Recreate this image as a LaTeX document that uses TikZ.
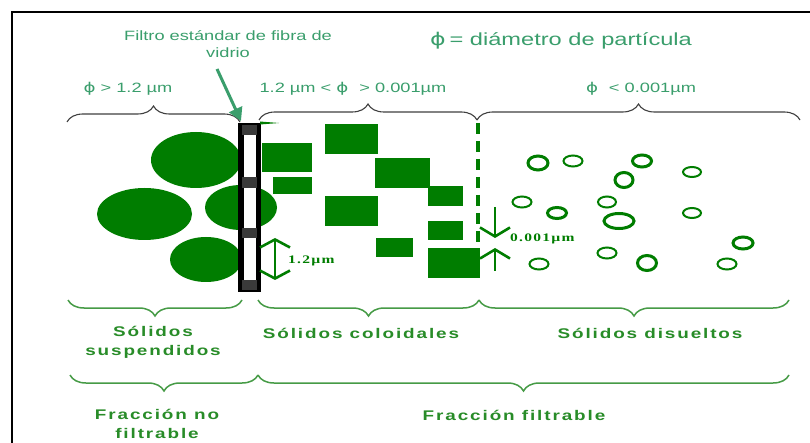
\documentclass[tikz,border=0pt]{standalone}
\usepackage{fontspec}
\usepackage{graphicx}
\setmainfont{Liberation Sans}
\newfontfamily\dvfont{DejaVu Sans}
\newfontfamily\lblfont[LetterSpace=10]{Liberation Sans}
\newfontfamily\serfont[LetterSpace=8]{Liberation Serif}
\usetikzlibrary{decorations.pathreplacing,arrows.meta}
\definecolor{shp}{RGB}{0,125,0}
\definecolor{tealg}{RGB}{58,158,108}
\definecolor{lblg}{RGB}{40,140,40}
\definecolor{brg}{RGB}{70,155,70}
\definecolor{filtgray}{RGB}{58,58,58}
\newcommand\sx[1]{\scalebox{1.35}[1]{#1}}
\newcommand\ph{{\dvfont ϕ}}
\begin{document}
\begin{tikzpicture}[x=1pt,y=-1pt,
  toptxt/.style={text=tealg, font=\fontsize{13.5}{17}\selectfont, inner sep=0, align=center},
  lbl/.style={text=lblg, font=\fontsize{14}{19}\lblfont\bfseries, inner sep=0, align=center},
  dimtxt/.style={text=shp, font=\fontsize{11.5}{13}\serfont\bfseries, inner sep=0, anchor=west},
  topbrace/.style={draw=black!75, line width=1.1, decorate, decoration={brace, amplitude=16, aspect=0.5}},
  botbrace/.style={draw=brg, line width=1.5, decorate, decoration={brace, amplitude=16, aspect=0.5}},
  blob/.style={fill=shp},
  ring/.style={draw=shp, line width=2},
  thickring/.style={draw=shp, line width=3},
  dimarrow/.style={draw=shp, line width=2.6, {Straight Barb[length=8pt,width=30pt]}-{Straight Barb[length=8pt,width=30pt]}},
  onearrow/.style={draw=shp, line width=2.6, -{Straight Barb[length=9pt,width=30pt]}}
]
\useasboundingbox (0,0) rectangle (810,443);
\fill[white] (0,0) rectangle (810,443);
% frame
\draw[line width=2.5, black] (12,445) -- (12,12) -- (812,12);

% top texts
\node[toptxt] (filtro) at (228,44.5) {\sx{Filtro estándar de fibra de}\\\sx{vidrio}};
\node[toptxt, font=\fontsize{17.5}{20}\selectfont] (titulo) at (561,41) {\sx{\ph\,= diámetro de partícula}};
\node[toptxt] (rango1) at (128,89) {\sx{\ph\ > 1.2 µm}};
\node[toptxt] (rango2) at (353,89) {\sx{1.2 µm < \ph\hspace{0.6em}> 0.001µm}};
\node[toptxt] (rango3) at (641,89) {\sx{\ph\hspace{0.6em}< 0.001µm}};

% top braces
\draw[topbrace] (67,122) -- (240,122);
\draw[topbrace] (259,120) -- (477,120);
\draw[topbrace] (477,120) -- (800,120);

% big particles (suspended)
\fill[blob] (196,160) ellipse [x radius=45, y radius=28];
\fill[blob] (144.5,214) ellipse [x radius=47.5, y radius=26];
\fill[blob] (241,207.5) ellipse [x radius=36, y radius=22.5];
\fill[blob] (206,259.5) ellipse [x radius=36, y radius=22.5];

% filter
\node[fill=black, minimum width=23, minimum height=169, inner sep=0] (filter) at (249.5,207.5) {};
\fill[filtgray] (242,125) rectangle (257,135);
\fill[white] (244.3,135) rectangle (255.7,177);
\fill[filtgray] (242,177) rectangle (257,188);
\fill[white] (244.3,188) rectangle (255.7,228);
\fill[filtgray] (242,228) rectangle (257,238);
\fill[white] (244.3,238) rectangle (255.7,280);
\fill[filtgray] (242,280) rectangle (257,290);
\fill[shp] (260,121.5) .. controls (270,121.5) .. (279,123) .. controls (270,124.5) .. (260,124.5) -- cycle;

% arrow to filter
\coordinate (arrtip) at (241,121);
\draw[tealg, line width=3, -{Triangle[length=13pt,width=14pt]}] (217,69) -- (arrtip);

% colloidal particles
\fill[blob] (262,143) rectangle (312,172);
\fill[blob] (273,177) rectangle (312,194);
\fill[blob] (325,124) rectangle (378,154);
\fill[blob] (375,158) rectangle (430,188);
\fill[blob] (428,186) rectangle (463,206);
\fill[blob] (325,196) rectangle (378,226);
\fill[blob] (428,221) rectangle (463,240);
\fill[blob] (376,238) rectangle (413,257);
\fill[blob] (428,248) rectangle (480,278);

% dashed boundary
\draw[shp, line width=4, dash pattern=on 11pt off 7pt] (478,123) -- (478,283);

% 1.2 um dimension
\coordinate (d1a) at (275,238);
\coordinate (d1b) at (275,280);
\draw[dimarrow] (d1b) -- (d1a);
\node[dimtxt] (d1lbl) at (288,261) {\sx{1.2µm}};

% 0.001 um dimension
\coordinate (d2a) at (495,207);
\coordinate (d2b) at (495,238);
\coordinate (d2c) at (495,271);
\coordinate (d2d) at (495,248);
\draw[onearrow] (d2a) -- (d2b);
\draw[onearrow] (d2c) -- (d2d);
\node[dimtxt] (d2lbl) at (510,239) {\sx{0.001µm}};

% dissolved particles
\draw[thickring] (538,163) ellipse [x radius=10, y radius=7];
\draw[ring] (573,161) ellipse [x radius=9.5, y radius=5.5];
\draw[thickring] (642,161) ellipse [x radius=9.5, y radius=6];
\draw[thickring] (624,180) ellipse [x radius=9, y radius=7.5];
\draw[ring] (692,172) ellipse [x radius=9, y radius=5];
\draw[ring] (522,202) ellipse [x radius=9.5, y radius=5.5];
\draw[thickring] (557,213) ellipse [x radius=9.5, y radius=5.5];
\draw[ring] (607,202) ellipse [x radius=9, y radius=5.5];
\draw[thickring] (619,221) ellipse [x radius=15, y radius=7.5];
\draw[ring] (692,213) ellipse [x radius=9, y radius=5];
\draw[thickring] (743,243) ellipse [x radius=10, y radius=6];
\draw[ring] (607,253) ellipse [x radius=9.5, y radius=5.5];
\draw[ring] (539,264) ellipse [x radius=9.5, y radius=5.5];
\draw[thickring] (647,263) ellipse [x radius=9.5, y radius=7.5];
\draw[ring] (727,264) ellipse [x radius=9.5, y radius=5.5];

% bottom braces row 1
\draw[botbrace] (242,300) -- (68,300);
\draw[botbrace] (479,300) -- (258,300);
\draw[botbrace] (789,300) -- (479,300);
\node[lbl] (susp) at (153,342.5) {\sx{Sólidos}\\\sx{suspendidos}};
\node[lbl] (coloid) at (361,333) {\sx{Sólidos coloidales}};
\node[lbl] (disuel) at (650,333) {\sx{Sólidos disueltos}};

% bottom braces row 2
\draw[botbrace] (258,375) -- (70,375);
\draw[botbrace] (789,375) -- (258,375);
\node[lbl] (nofilt) at (157,424) {\sx{Fracción no}\\\sx{filtrable}};
\node[lbl] (filt) at (514,415) {\sx{Fracción filtrable}};
\end{tikzpicture}
\end{document}
